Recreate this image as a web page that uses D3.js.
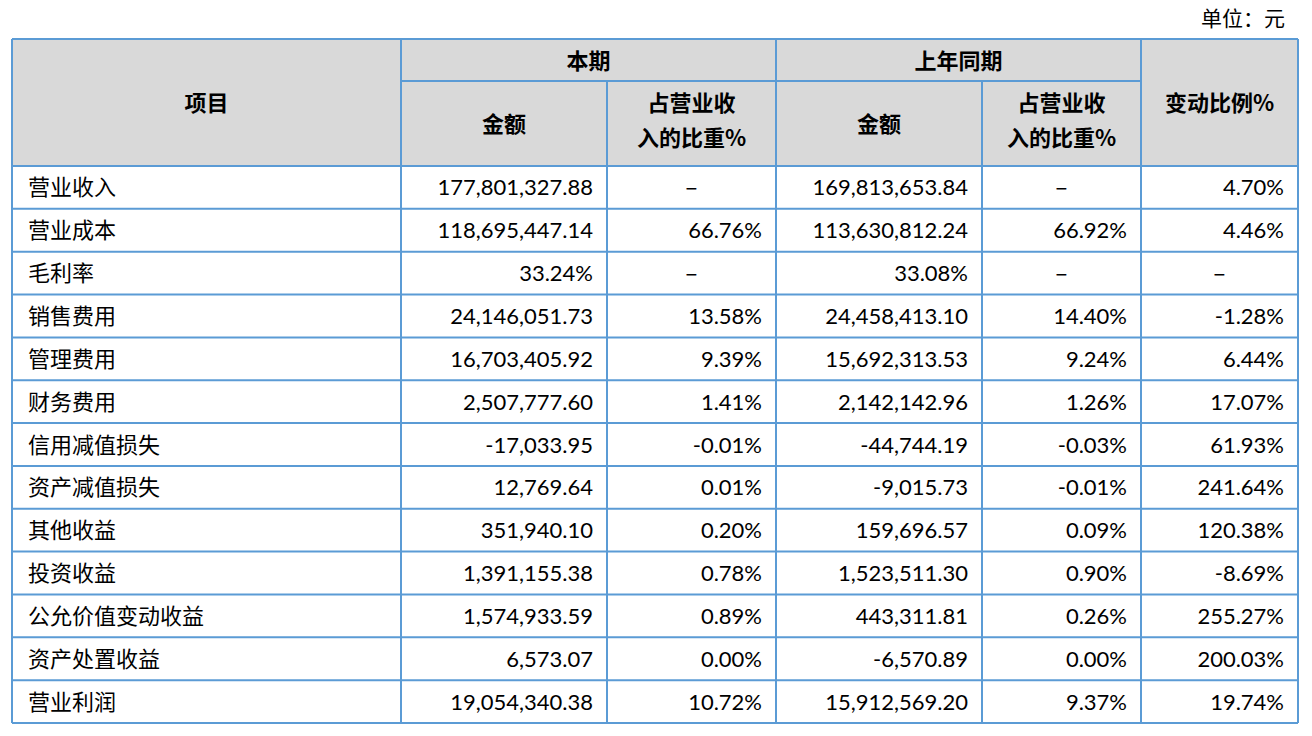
<!DOCTYPE html>
<html><head><meta charset="utf-8">
<script src="https://cdn.jsdelivr.net/npm/d3@7"></script>
<style>body{margin:0;background:#fff}</style>
</head><body>
<script>
// data
var items = ["营业收入","营业成本","毛利率","销售费用","管理费用","财务费用","信用减值损失","资产减值损失","其他收益","投资收益","公允价值变动收益","资产处置收益","营业利润"];
var cur_amt = ["177,801,327.88","118,695,447.14","33.24%","24,146,051.73","16,703,405.92","2,507,777.60","-17,033.95","12,769.64","351,940.10","1,391,155.38","1,574,933.59","6,573.07","19,054,340.38"];
var cur_pct = ["–","66.76%","–","13.58%","9.39%","1.41%","-0.01%","0.01%","0.20%","0.78%","0.89%","0.00%","10.72%"];
var prev_amt = ["169,813,653.84","113,630,812.24","33.08%","24,458,413.10","15,692,313.53","2,142,142.96","-44,744.19","-9,015.73","159,696.57","1,523,511.30","443,311.81","-6,570.89","15,912,569.20"];
var prev_pct = ["–","66.92%","–","14.40%","9.24%","1.26%","-0.03%","-0.01%","0.09%","0.90%","0.26%","0.00%","9.37%"];
var change = ["4.70%","4.46%","–","-1.28%","6.44%","17.07%","61.93%","241.64%","120.38%","-8.69%","255.27%","200.03%","19.74%"];

var W = 1312, H = 736;
var colX = [12, 401, 607, 776, 982, 1141, 1298];
var topY = 39, midY = 81, hdrBot = 166, botY = 723;
var border = "#5b9bd5", cjk = "'Noto Sans CJK SC', sans-serif", num = "Lato, 'Open Sans', sans-serif";

var svg = d3.select("body").append("svg").attr("width", W).attr("height", H);
var y = d3.scaleBand().domain(d3.range(items.length)).range([hdrBot, botY]);

svg.append("text").attr("x", 1285).attr("y", 26).attr("text-anchor", "end")
  .style("font-family", cjk).style("font-size", "21px").text("单位：元");

// header background
svg.append("rect").attr("x", colX[0]).attr("y", topY).attr("width", colX[6]-colX[0]).attr("height", hdrBot-topY).attr("fill", "#d9d9d9");

// header text
function htext(x, yy, lines) {
  var t = svg.append("text").attr("x", x).attr("text-anchor", "middle")
    .style("font-family", cjk).style("font-size", "22px").style("font-weight", "bold");
  lines.forEach(function(l, i) {
    t.append("tspan").attr("x", x).attr("y", yy + i*35).text(l);
  });
}
htext((colX[0]+colX[1])/2, 111, ["项目"]);
htext((colX[1]+colX[3])/2, 69, ["本期"]);
htext((colX[3]+colX[5])/2, 69, ["上年同期"]);
htext((colX[5]+colX[6])/2, 111, ["变动比例%"]);
htext((colX[1]+colX[2])/2, 132, ["金额"]);
htext((colX[3]+colX[4])/2, 132, ["金额"]);
htext((colX[2]+colX[3])/2, 111, ["占营业收","入的比重%"]);
htext((colX[4]+colX[5])/2, 111, ["占营业收","入的比重%"]);

// body cells
var cols = [cur_amt, cur_pct, prev_amt, prev_pct, change];
var rows = svg.selectAll(".row").data(items).enter().append("g").attr("class", "row")
  .attr("transform", function(d, i) { return "translate(0," + (y(i) + y.bandwidth()/2 + 8) + ")"; });
rows.append("text").attr("x", colX[0] + 16).style("font-family", cjk).style("font-size", "22px")
  .text(function(d) { return d; });
cols.forEach(function(arr, c) {
  rows.append("text")
    .attr("x", function(d, i) { return arr[i] === "–" ? (colX[c+1]+colX[c+2])/2 : colX[c+2] - 14; })
    .attr("text-anchor", function(d, i) { return arr[i] === "–" ? "middle" : "end"; })
    .style("font-family", function(d, i) { return arr[i] === "–" ? cjk : num; })
    .style("font-size", "22px")
    .text(function(d, i) { return arr[i]; });
});

// grid lines
var g = svg.append("g").attr("stroke", border).attr("stroke-width", 2);
d3.range(items.length + 1).forEach(function(i) {
  var yy = i === items.length ? botY : y(i);
  g.append("line").attr("x1", colX[0]).attr("x2", colX[6]).attr("y1", yy).attr("y2", yy);
});
g.append("line").attr("x1", colX[0]).attr("x2", colX[6]).attr("y1", topY).attr("y2", topY);
g.append("line").attr("x1", colX[1]).attr("x2", colX[5]).attr("y1", midY).attr("y2", midY);
colX.forEach(function(x, i) {
  var y1 = (i === 2 || i === 4) ? midY : topY;
  g.append("line").attr("x1", x).attr("x2", x).attr("y1", y1).attr("y2", botY);
});
</script>
</body></html>
